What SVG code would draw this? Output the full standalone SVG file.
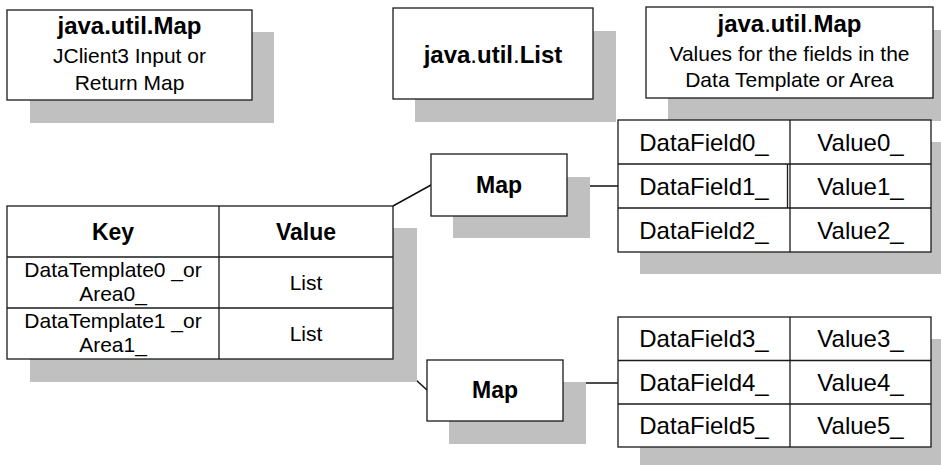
<svg xmlns="http://www.w3.org/2000/svg" width="941" height="465" viewBox="0 0 941 465">
  <style>
    .shadow { fill: #c0c0c0; stroke: none; }
    .box { fill: #ffffff; stroke: #1a1a1a; stroke-width: 1.3; }
    .rule { stroke: #1a1a1a; stroke-width: 1.3; fill: none; }
    .conn { stroke: #111111; stroke-width: 1.5; fill: none; }
    text { font-family: "Liberation Sans", Arial, sans-serif; fill: #000000; text-anchor: middle; }
    .title { font-size: 24px; font-weight: bold; }
    .body { font-size: 21px; }
    .head { font-size: 23px; font-weight: bold; }
    .cell { font-size: 21px; }
    .field { font-size: 24px; }
    .reg { font-weight: normal; }
  </style>

  <!-- Legend: input / return map -->
  <g id="legend-map">
    <rect class="shadow" x="30" y="32" width="244" height="91"/>
    <rect class="box" x="7" y="10" width="245" height="90"/>
    <text class="title" x="129.5" y="34">java.util.Map</text>
    <text class="body" x="129.5" y="63">JClient3 Input or</text>
    <text class="body" x="129.5" y="90">Return Map</text>
  </g>

  <!-- Legend: list -->
  <g id="legend-list">
    <rect class="shadow" x="415" y="31" width="201" height="91"/>
    <rect class="box" x="393" y="8" width="200" height="91"/>
    <text class="title" x="493" y="63">java<tspan class="reg">.</tspan>util<tspan class="reg">.</tspan>List</text>
  </g>

  <!-- Legend: field value map -->
  <g id="legend-values">
    <rect class="shadow" x="668" y="30" width="280" height="91"/>
    <rect class="box" x="646" y="7" width="287" height="91"/>
    <text class="title" x="789.5" y="32">java<tspan class="reg">.</tspan>util<tspan class="reg">.</tspan>Map</text>
    <text class="body" x="789.5" y="61">Values for the fields in the</text>
    <text class="body" x="789.5" y="87">Data Template or Area</text>
  </g>

  <!-- Connectors -->
  <g id="connectors">
    <line class="conn" x1="393" y1="206" x2="431" y2="185"/>
    <line class="conn" x1="567" y1="186" x2="618" y2="186" stroke-width="2"/>
    <line class="conn" x1="393" y1="359" x2="427" y2="390"/>
    <line class="conn" x1="586" y1="383" x2="618" y2="383"/>
  </g>

  <!-- Top-level map: key / value table -->
  <g id="root-map">
    <rect class="shadow" x="30" y="228" width="387" height="154"/>
    <rect class="box" x="7" y="206" width="386" height="153"/>
    <line class="rule" x1="219" y1="206" x2="219" y2="359"/>
    <line class="rule" x1="7" y1="257" x2="393" y2="257"/>
    <line class="rule" x1="7" y1="308" x2="393" y2="308"/>
    <text class="head" x="113" y="240">Key</text>
    <text class="head" x="306" y="240">Value</text>
    <text class="cell" x="113" y="277">DataTemplate0 _or</text>
    <text class="cell" x="113" y="301">Area0_</text>
    <text class="cell" x="306" y="290">List</text>
    <text class="cell" x="113" y="328">DataTemplate1 _or</text>
    <text class="cell" x="113" y="352">Area1_</text>
    <text class="cell" x="306" y="341">List</text>
  </g>

  <!-- List entry 0 -->
  <g id="map-0">
    <rect class="shadow" x="453" y="177" width="137" height="61"/>
    <rect class="box" x="431" y="154" width="136" height="62"/>
    <text class="head" x="499" y="193">Map</text>
  </g>

  <!-- List entry 1 -->
  <g id="map-1">
    <rect class="shadow" x="449" y="382" width="137" height="62"/>
    <rect class="box" x="427" y="360" width="136" height="61"/>
    <text class="head" x="495" y="398">Map</text>
  </g>

  <!-- Field values of entry 0 -->
  <g id="fields-0">
    <rect class="shadow" x="640" y="142" width="313" height="132"/>
    <rect class="box" x="618" y="120" width="313" height="132"/>
    <line class="rule" x1="790" y1="120" x2="790" y2="252"/>
    <line class="rule" x1="787.5" y1="164" x2="787.5" y2="208"/>
    <line class="rule" x1="618" y1="164" x2="931" y2="164"/>
    <line class="rule" x1="618" y1="208" x2="931" y2="208"/>
    <text class="field" x="704" y="151">DataField0_</text>
    <text class="field" x="860.5" y="151">Value0_</text>
    <text class="field" x="704" y="195">DataField1_</text>
    <text class="field" x="860.5" y="195">Value1_</text>
    <text class="field" x="704" y="239">DataField2_</text>
    <text class="field" x="860.5" y="239">Value2_</text>
  </g>

  <!-- Field values of entry 1 -->
  <g id="fields-1">
    <rect class="shadow" x="640" y="339" width="313" height="130"/>
    <rect class="box" x="618" y="317" width="313" height="130"/>
    <line class="rule" x1="790" y1="317" x2="790" y2="447"/>
    <line class="rule" x1="618" y1="360.5" x2="931" y2="360.5"/>
    <line class="rule" x1="618" y1="404" x2="931" y2="404"/>
    <text class="field" x="704" y="347">DataField3_</text>
    <text class="field" x="860.5" y="347">Value3_</text>
    <text class="field" x="704" y="391">DataField4_</text>
    <text class="field" x="860.5" y="391">Value4_</text>
    <text class="field" x="704" y="434">DataField5_</text>
    <text class="field" x="860.5" y="434">Value5_</text>
  </g>
</svg>
